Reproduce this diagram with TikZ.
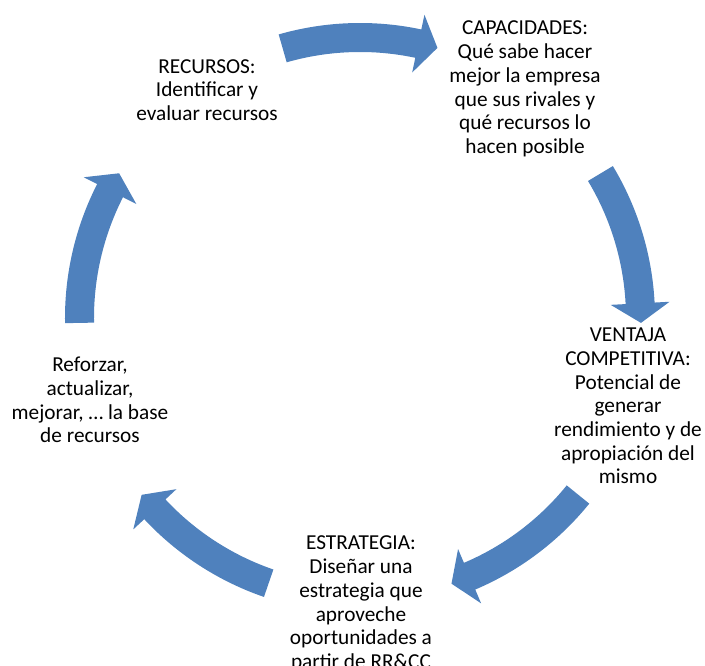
\documentclass[tikz,border=0pt]{standalone}
\usepackage{fontspec}
\setmainfont{Carlito}
\usepackage{tikz}

\definecolor{cycleblue}{HTML}{4F81BD}

\tikzset{
cyclelabel/.style={align=center, inner sep=0pt, font=\fontsize{21.3}{23.7}\selectfont},
cyclearrow/.style={fill=cycleblue}
}

\begin{document}
\begin{tikzpicture}[x=1pt, y=1pt]
\useasboundingbox (-360,-348) rectangle (345,318);

\foreach \a in {90,15,-55,-125,165}
{
\fill[cyclearrow] ({\a+16}:295) arc[start angle=\a+16, end angle=\a-12, radius=295]
  -- ({\a-12}:310) -- ({\a-16}:281) -- ({\a-12}:251) -- ({\a-12}:266)
  arc[start angle=\a-12, end angle=\a+16, radius=266] -- cycle;
}

\node[cyclelabel] (recursos) at (-153,228) {RECURSOS:\\Identificar y\\evaluar recursos};
\node[cyclelabel] (capacidades) at (165,229) {CAPACIDADES:\\Qué sabe hacer\\mejor la empresa\\que sus rivales y\\qué recursos lo\\hacen posible};
\node[cyclelabel] (ventaja) at (268,-88) {VENTAJA\\COMPETITIVA:\\Potencial de\\generar\\rendimiento y de\\apropiación del\\mismo};
\node[cyclelabel] (estrategia) at (1,-286) {ESTRATEGIA:\\Diseñar una\\estrategia que\\aproveche\\oportunidades a\\partir de RR\&CC};
\node[cyclelabel] (reforzar) at (-270,-82) {Reforzar,\\actualizar,\\mejorar, … la base\\de recursos};
\end{tikzpicture}
\end{document}
